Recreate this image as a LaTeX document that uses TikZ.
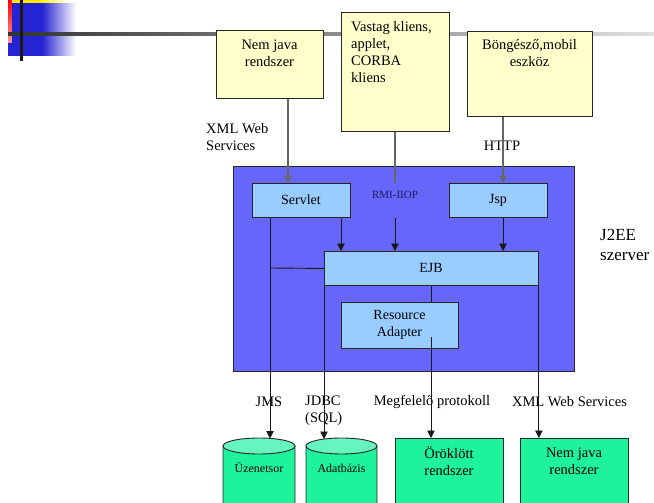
\documentclass[tikz,border=0pt]{standalone}
\usepackage{fontspec}
\setmainfont{Liberation Serif}
\usetikzlibrary{arrows.meta}
\definecolor{clientfill}{HTML}{FFFFCC}
\definecolor{serverfill}{HTML}{6666FA}
\definecolor{compfill}{HTML}{99CCFF}
\definecolor{backfill}{HTML}{1EF29A}
\definecolor{backtop}{HTML}{66F5BE}
\definecolor{rmitext}{HTML}{1A1A5E}
\definecolor{decoblue}{HTML}{2424D2}
\tikzset{
  boxbase/.style={rectangle, draw=black!85, line width=0.9pt, inner sep=0pt, anchor=north west},
  clientbox/.style={boxbase, fill=clientfill},
  serverbox/.style={boxbase, fill=serverfill},
  compbox/.style={boxbase, fill=compfill},
  backbox/.style={boxbase, fill=backfill},
  txt/.style={inner sep=0pt, font=\fontsize{14.5}{17}\selectfont},
  comptxt/.style={inner sep=0pt, font=\fontsize{14}{17}\selectfont},
  smalltxt/.style={inner sep=0pt, font=\fontsize{12}{14}\selectfont},
  inlink/.style={draw=black!60, line width=1.4pt},
  link/.style={draw=black!90, line width=0.9pt},
  tip/.style={-{Triangle[length=7.5pt,width=7.5pt]}},
}
\begin{document}
\begin{tikzpicture}[x=1pt,y=-1pt]
\useasboundingbox (0,0) rectangle (654,503);
\clip (0,0) rectangle (654,503);

% corner ornament
\fill[yellow!90!orange] (12,0) rectangle (40,3.5);
\shade[left color=yellow!90!orange, right color=white] (40,0) rectangle (68,3.5);
\fill[decoblue] (8,3.5) rectangle (42,56);
\shade[left color=decoblue, right color=white] (42,3.5) rectangle (76,56);
\shade[top color=red, bottom color=red!40] (8,0) rectangle (11.5,43);
\shade[left color=black!80, right color=black!12] (8,32.5) rectangle (654,35.5);
\fill[black!90] (19.5,0) rectangle (23,61);

% client systems
\node[clientbox, minimum width=107, minimum height=68] (njtop) at (216,30) {};
\node[clientbox, minimum width=108, minimum height=119] (thick) at (341,12) {};
\node[clientbox, minimum width=125, minimum height=85] (browser) at (467,31) {};
\node[txt, align=center] (njtoptxt) at (269.5,53.5) {Nem java\\rendszer};
\node[txt, align=left, anchor=west] (thicktxt) at (351,52.5) {Vastag kliens,\\applet,\\CORBA\\kliens};
\node[txt, align=center] (browsertxt) at (529.5,53.5) {Böngésző,mobil\\eszköz};

\node[txt, align=left, anchor=west] (xmltop) at (206,137) {XML Web\\Services};
\node[txt] (http) at (502,146) {HTTP};

% J2EE server
\node[serverbox, minimum width=341, minimum height=205] (server) at (233,166) {};
\node[inner sep=0pt, font=\fontsize{17}{20}\selectfont, align=left, anchor=west] (servertxt) at (600,245) {J2EE\\szerver};

\node[compbox, minimum width=98, minimum height=34] (servlet) at (252,183) {};
\node[compbox, minimum width=98, minimum height=34] (jsp) at (449,183) {};
\node[compbox, minimum width=214, minimum height=34] (ejb) at (324,251) {};
\node[compbox, minimum width=117, minimum height=46] (ra) at (341,302) {};
\node[comptxt] (servlettxt) at (301,200) {Servlet};
\node[comptxt] (jsptxt) at (498,200) {Jsp};
\node[comptxt] (ejbtxt) at (431,268) {EJB};
\node[comptxt, align=center] (ratxt) at (399.5,325) {Resource\\Adapter};
\node[inner sep=0pt, font=\fontsize{11}{13}\selectfont, text=rmitext] (rmi) at (395,195) {RMI-IIOP};

% back-end systems: two cylinders running off the lower edge
\fill[backfill, draw=black!85, line width=0.9pt] (223,446) -- (223,508) arc[start angle=180, end angle=0, x radius=36, y radius=8] -- (295,446) -- cycle;
\fill[backtop, draw=black!85, line width=0.9pt] (259,446) ellipse[x radius=36, y radius=8];
\fill[backfill, draw=black!85, line width=0.9pt] (306,446) -- (306,508) arc[start angle=180, end angle=0, x radius=35.5, y radius=8] -- (377,446) -- cycle;
\fill[backtop, draw=black!85, line width=0.9pt] (341.5,446) ellipse[x radius=35.5, y radius=8];
\coordinate (queuetop) at (270,438.5);
\coordinate (dbtop) at (324,439);
\node[smalltxt] (queue) at (259,468) {Üzenetsor};
\node[smalltxt] (db) at (341.5,468) {Adatbázis};

\node[backbox, minimum width=108, minimum height=80] (legacy) at (395,438) {};
\node[backbox, minimum width=108, minimum height=80] (njbot) at (520,438) {};
\node[txt, align=center] (legacytxt) at (449,461) {Öröklött\\rendszer};
\node[txt, align=center] (njbottxt) at (574,461) {Nem java\\rendszer};

% protocol labels
\node[txt] (jms) at (269,402) {JMS};
\node[txt, align=left, anchor=west] (jdbc) at (305,411) {JDBC\\(SQL)};
\node[txt] (proto) at (432,402) {Megfelelő protokoll};
\node[txt] (xmlbot) at (569.5,402) {XML Web Services};

% incoming connections
\coordinate (rmiabove) at (395,183);
\coordinate (rmibelow) at (395,218);
\draw[inlink, tip] (njtop.south -| 288,0) -- (servlet.north -| 288,0);
\draw[inlink] (thick.south -| rmiabove) -- (rmiabove);
\draw[link, tip] (rmibelow) -- (ejb.north -| rmibelow);
\draw[inlink, tip] (browser.south -| 503,0) -- (jsp.north -| 503,0);

% internal connections
\draw[link, tip] (servlet.south -| 341,0) -- (ejb.north -| 341,0);
\draw[link, tip] (jsp.south -| 503,0) -- (ejb.north -| 503,0);
\draw[link] (ejb.south -| 431,0) -- (ra.north -| 431,0);
\coordinate (raout) at (431,337);

% outgoing connections
\draw[link, tip] (servlet.south -| queuetop) -- (queuetop);
\draw[link] (270,268) -- (ejb.west);
\draw[link, tip] (ejb.south west) -- (dbtop);
\draw[link, tip] (raout) -- (legacy.north -| raout);
\draw[link, tip] (ejb.south east) -- (njbot.north -| ejb.south east);
\end{tikzpicture}
\end{document}
